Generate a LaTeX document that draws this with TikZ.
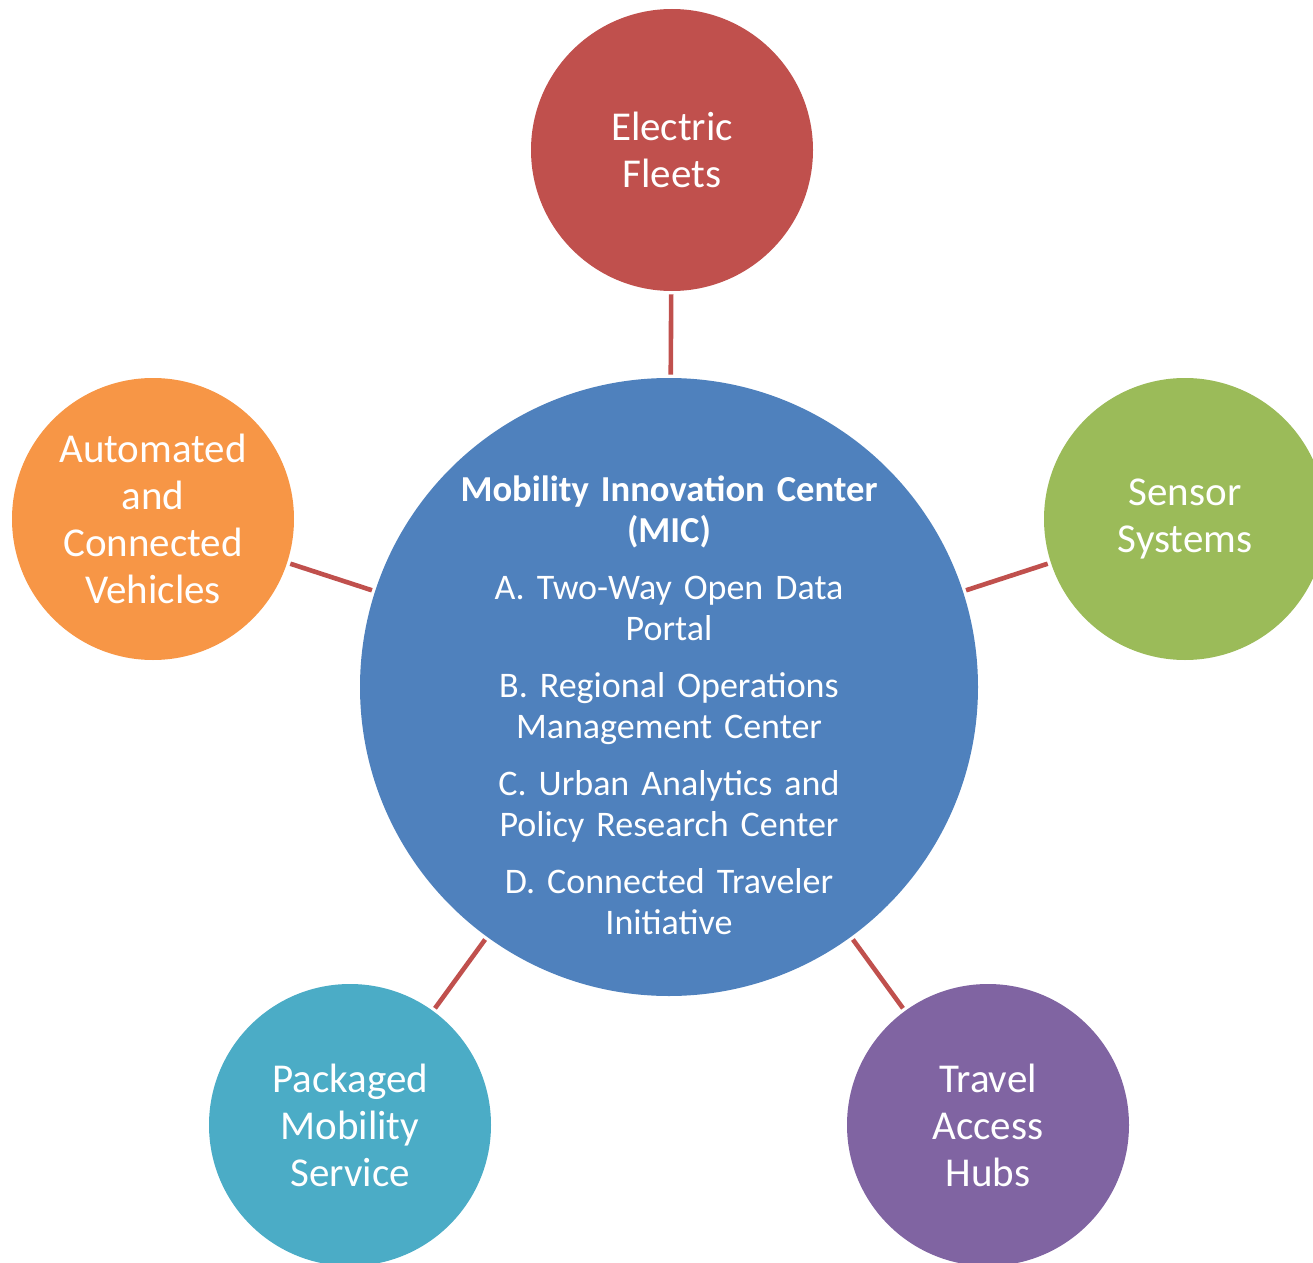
\documentclass[tikz,border=0pt]{standalone}
\usepackage{fontspec}
\setmainfont{Carlito}
\definecolor{micblue}{RGB}{79,129,189}
\definecolor{linkred}{RGB}{192,80,77}
\tikzset{
  spoke/.style={circle,draw=none,inner sep=0pt,minimum size=141pt,text=white,
    align=center,text width=100pt,font=\fontsize{20.5}{23.5}\selectfont},
  hub/.style={circle,draw=none,inner sep=0pt,minimum size=309pt,fill=micblue},
  hubtext/.style={text=white,align=center,text width=215pt,inner sep=0pt,
    font=\fontsize{18}{20.5}\selectfont},
  link/.style={draw=linkred,line width=2.3pt,shorten >=1.5pt,shorten <=1.5pt},
}

\begin{document}
\begin{tikzpicture}[x=0.5pt,y=0.5pt,yscale=-1]
\useasboundingbox (0,0) rectangle (1313,1263);

%Shape: Circle [id:hub]
\node [hub] (mic) at (669,687) {};
\node [hubtext] (mictext) at (669,705) {{\fontsize{18.3}{20}\bfseries Mobility Innovation Center\\(MIC)}\\[8pt]
  A. Two-Way Open Data\\Portal\\[8pt]
  B. Regional Operations\\Management Center\\[8pt]
  C. Urban Analytics and\\Policy Research Center\\[8pt]
  D. Connected Traveler\\Initiative};

%Shape: Circle [id:spokes]
\node [spoke,fill={rgb, 255:red, 192; green, 80; blue, 77 }] (fleets) at (672,150) {Electric\\Fleets};
\node [spoke,fill={rgb, 255:red, 155; green, 187; blue, 89 }] (sensors) at (1185,519) {Sensor\\Systems};
\node [spoke,fill={rgb, 255:red, 128; green, 100; blue, 162 }] (hubs) at (988,1125) {Travel\\Access\\Hubs};
\node [spoke,fill={rgb, 255:red, 75; green, 172; blue, 198 }] (pms) at (350,1125) {Packaged\\Mobility\\Service};
\node [spoke,fill={rgb, 255:red, 247; green, 150; blue, 70 }] (acv) at (153,519) {Automated\\and\\Connected\\Vehicles};

%Straight Lines [id:links]
\foreach \s in {fleets,sensors,hubs,pms,acv}
  \draw [link] (mic) -- (\s);
\end{tikzpicture}
\end{document}
